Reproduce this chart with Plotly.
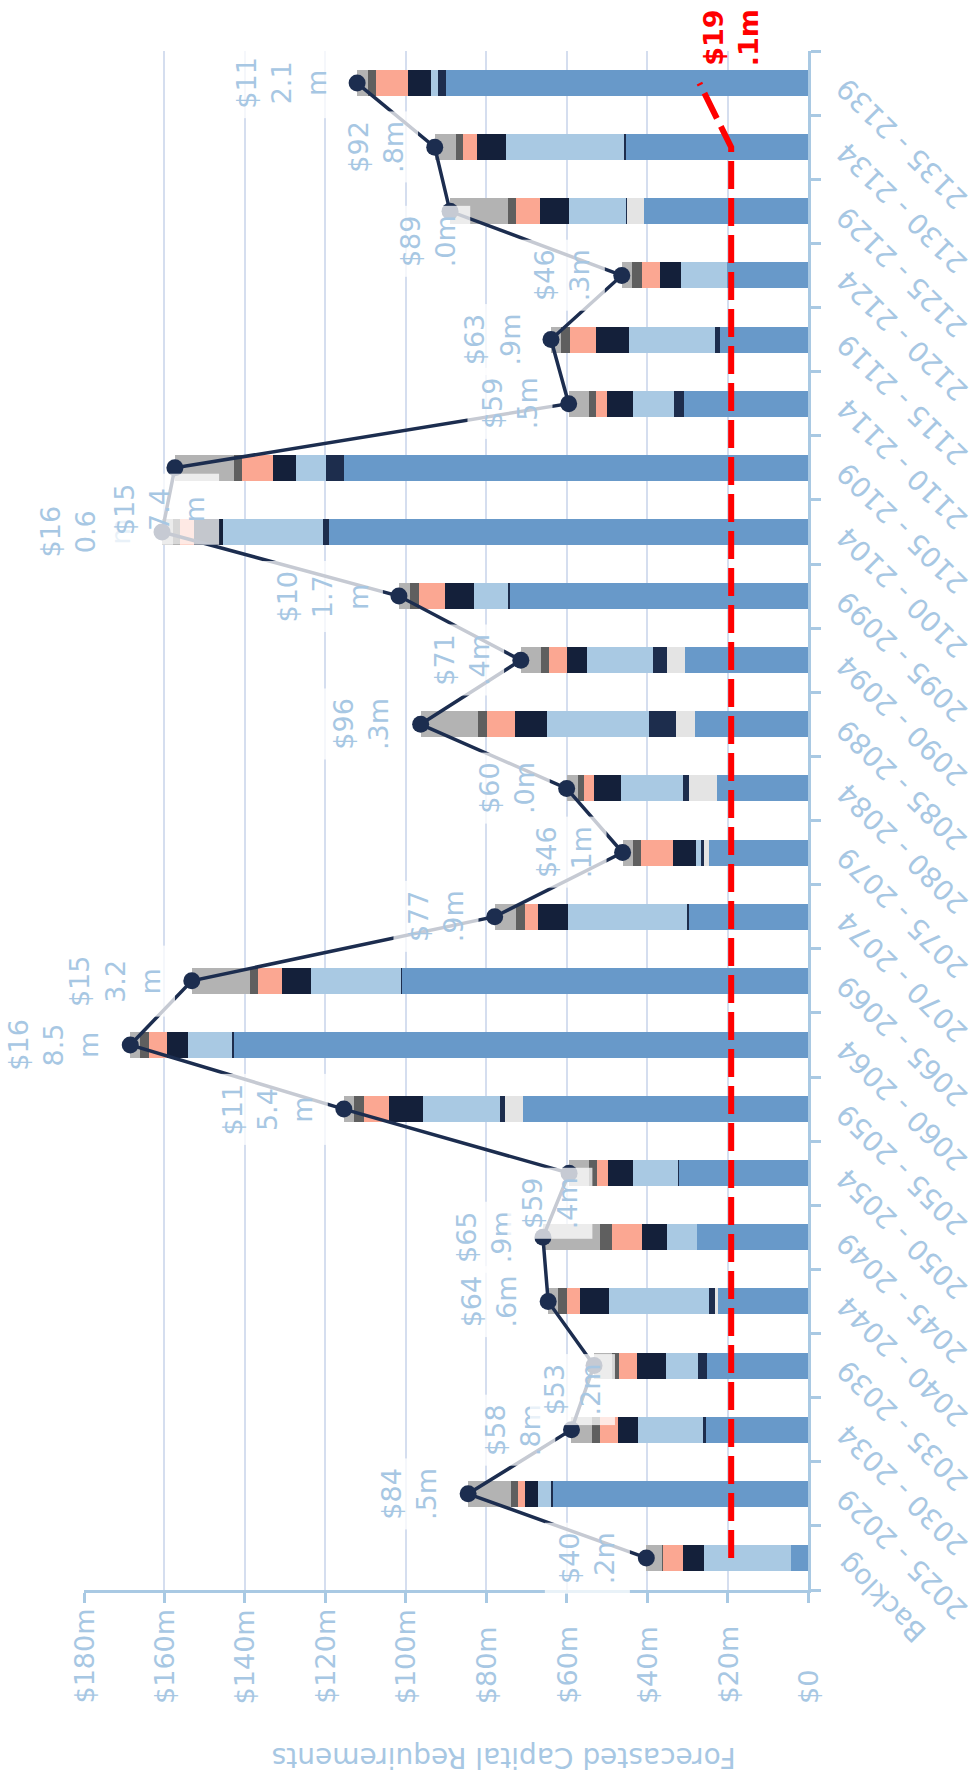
import plotly.graph_objects as go

# ---- data -------------------------------------------------------------
periods = ["Backlog", "2025 - 2029", "2030 - 2034", "2035 - 2039", "2040 - 2044",
           "2045 - 2049", "2050 - 2054", "2055 - 2059", "2060 - 2064", "2065 - 2069",
           "2070 - 2074", "2075 - 2079", "2080 - 2084", "2085 - 2089", "2090 - 2094",
           "2095 - 2099", "2100 - 2104", "2105 - 2109", "2110 - 2114", "2115 - 2119",
           "2120 - 2124", "2125 - 2129", "2130 - 2134", "2135 - 2139"]

# stacked components ($m), listed from the base of each bar outward
mid_blue = [4.2, 63.5, 25.3, 25.0, 22.4, 27.6, 32.1, 70.9, 142.9, 101.0, 29.8, 24.7,
            22.7, 28.1, 30.5, 74.1, 119.0, 115.4, 30.8, 22.0, 20.1, 40.8, 45.4, 89.9]
light_grey = [0, 0, 0, 0, 0.8, 0, 0, 4.4, 0, 0, 0, 1.2,
              6.9, 4.7, 4.6, 0, 0, 0, 0, 0, 0, 4.3, 0, 0]
navy_thin = [0, 0.4, 0.8, 2.3, 1.5, 0, 0.3, 1.3, 0.2, 0.3, 0.3, 0.7,
             1.5, 6.7, 3.5, 0.5, 1.7, 4.4, 2.5, 1.0, 0, 0.2, 0.3, 2.1]
light_blue = [21.7, 3.3, 16.2, 8.1, 24.8, 7.5, 11.1, 19.2, 11.1, 22.3, 29.6, 1.3,
              15.5, 25.4, 16.4, 8.5, 24.7, 7.4, 10.2, 21.5, 11.6, 14.1, 29.4, 1.8]
navy_dark = [5.2, 3.2, 5.0, 7.1, 7.3, 6.1, 6.2, 8.4, 5.1, 7.2, 7.4, 5.6,
             6.6, 8.0, 4.9, 7.2, 7.3, 5.9, 6.4, 8.3, 5.1, 7.2, 7.3, 5.7]
salmon = [5.1, 1.7, 4.5, 4.4, 3.2, 7.5, 2.7, 6.3, 4.6, 6.0, 3.2, 8.0,
          2.4, 7.0, 4.4, 6.3, 3.5, 7.7, 2.8, 6.4, 4.4, 6.1, 3.3, 7.8]
dark_grey = [0.2, 1.7, 1.8, 1.8, 2.2, 2.9, 2.1, 2.3, 2.1, 1.9, 2.4, 2.0,
             1.7, 2.1, 2.1, 2.4, 1.7, 1.9, 1.8, 2.1, 2.5, 2.0, 1.9, 2.1]
grey = [3.8, 10.7, 5.2, 4.5, 2.4, 14.3, 4.9, 2.6, 2.5, 14.5, 5.2, 2.6,
        2.7, 14.3, 5.0, 2.7, 2.7, 14.7, 5.0, 2.6, 2.6, 14.3, 5.2, 2.7]

# period totals ($m)
totals = [40.2, 84.5, 58.8, 53.2, 64.6, 65.9, 59.4, 115.4, 168.5, 153.2, 77.9, 46.1,
          60.0, 96.3, 71.4, 101.7, 160.6, 157.4, 59.5, 63.9, 46.3, 89.0, 92.8, 112.1]

# average requirement line ($m)
average_line = [19.1, 19.1, 19.1, 19.1, 19.1, 19.1, 19.1, 19.1, 19.1, 19.1, 19.1, 19.1,
                19.1, 19.1, 19.1, 19.1, 19.1, 19.1, 19.1, 19.1, 19.1, 19.1, 19.1, 27.0]
average_label = "$19.1m"

value_ticks = [0, 20, 40, 60, 80, 100, 120, 140, 160, 180]

# ---- styling ----------------------------------------------------------
FONT = "DejaVu Sans"
TXT = "#a7c7e3"
AXIS = "#a9c9e3"
GRID = "#d5deef"
NAVY = "#1c2d4f"

components = [
    (mid_blue, "#6899c9"),
    (light_grey, "#e4e4e4"),
    (navy_thin, "#1d2d4d"),
    (light_blue, "#a9c9e3"),
    (navy_dark, "#14203a"),
    (salmon, "#fba792"),
    (dark_grey, "#5f5f5f"),
    (grey, "#b3b3b3"),
]

fig = go.Figure()
for vals, col in components:
    fig.add_trace(go.Bar(x=vals, y=periods, orientation="h",
                         marker=dict(color=col, line=dict(width=0)),
                         hoverinfo="skip"))

fig.add_trace(go.Scatter(x=average_line, y=periods, mode="lines",
                         line=dict(color="#ff0000", width=6, dash="28px,9px"),
                         hoverinfo="skip"))

fig.add_trace(go.Scatter(x=totals, y=periods, mode="lines+markers",
                         line=dict(color=NAVY, width=3.5),
                         marker=dict(color=NAVY, size=17),
                         hoverinfo="skip"))

# label nudges (px right, px down) where labels sit off their default spot
nudge = {3: (37, 24), 6: (40, 30), 17: (61, 41), 21: (37, 30)}


def wrap3(s):
    return "<br>".join(s[i:i + 3] for i in range(0, len(s), 3))


annotations = []
for i, (p, t) in enumerate(zip(periods, totals)):
    dx, dy = nudge.get(i, (0, 0))
    annotations.append(dict(
        x=t, y=p, xref="x", yref="y", text=wrap3(f"${t:.1f}m"),
        showarrow=False, textangle=-90, xanchor="right", yanchor="middle",
        xshift=-16 + dx, yshift=-dy, align="center",
        bgcolor="rgba(255,255,255,0.75)", borderpad=9,
        font=dict(family=FONT, size=27, color=TXT)))

# value-axis labels
for v in value_ticks:
    annotations.append(dict(
        x=v, y=0, xref="x", yref="paper", text="$0" if v == 0 else f"${v}m",
        showarrow=False, textangle=-90, xanchor="center", yanchor="bottom",
        yshift=-116, font=dict(family=FONT, size=27, color=TXT)))

# period labels
for p in periods:
    annotations.append(dict(
        x=1, y=p, xref="paper", yref="y", text=p, showarrow=False,
        textangle=-135, xanchor="left", yanchor="top", xshift=20, yshift=14,
        font=dict(family=FONT, size=28, color=TXT)))

# axis title
annotations.append(dict(
    x=0.58, y=0, xref="paper", yref="paper", text="Forecasted Capital Requirements",
    showarrow=False, textangle=180, xanchor="center", yanchor="middle", yshift=-168,
    font=dict(family=FONT, size=28, color=TXT)))

# average line label
annotations.append(dict(
    x=average_line[0], y=1, xref="x", yref="paper",
    text="<b>" + wrap3(average_label) + "</b>", showarrow=False, textangle=-90,
    xanchor="center", yanchor="middle", yshift=13,
    font=dict(family=FONT, size=27, color="#ff0000")))

fig.update_layout(
    width=978, height=1782,
    margin=dict(l=84, r=170, t=51, b=192),
    paper_bgcolor="white", plot_bgcolor="white",
    barmode="stack", bargap=0.595, showlegend=False,
    annotations=annotations,
    xaxis=dict(range=[180, 0], autorange=False, tickvals=value_ticks,
               showticklabels=False,
               showgrid=True, gridcolor=GRID, gridwidth=2, zeroline=False,
               showline=True, linecolor=AXIS, linewidth=2.5,
               ticks="outside", ticklen=10, tickwidth=2.5, tickcolor=AXIS),
    yaxis=dict(type="category", categoryorder="array", categoryarray=periods,
               range=[-0.5, len(periods) - 0.5], autorange=False,
               side="right", showticklabels=False, showgrid=False,
               showline=True, linecolor=AXIS, linewidth=2.5,
               ticks="outside", ticklen=10, tickwidth=2.5, tickcolor=AXIS,
               tickson="boundaries"),
)

fig.write_html("out.html")
